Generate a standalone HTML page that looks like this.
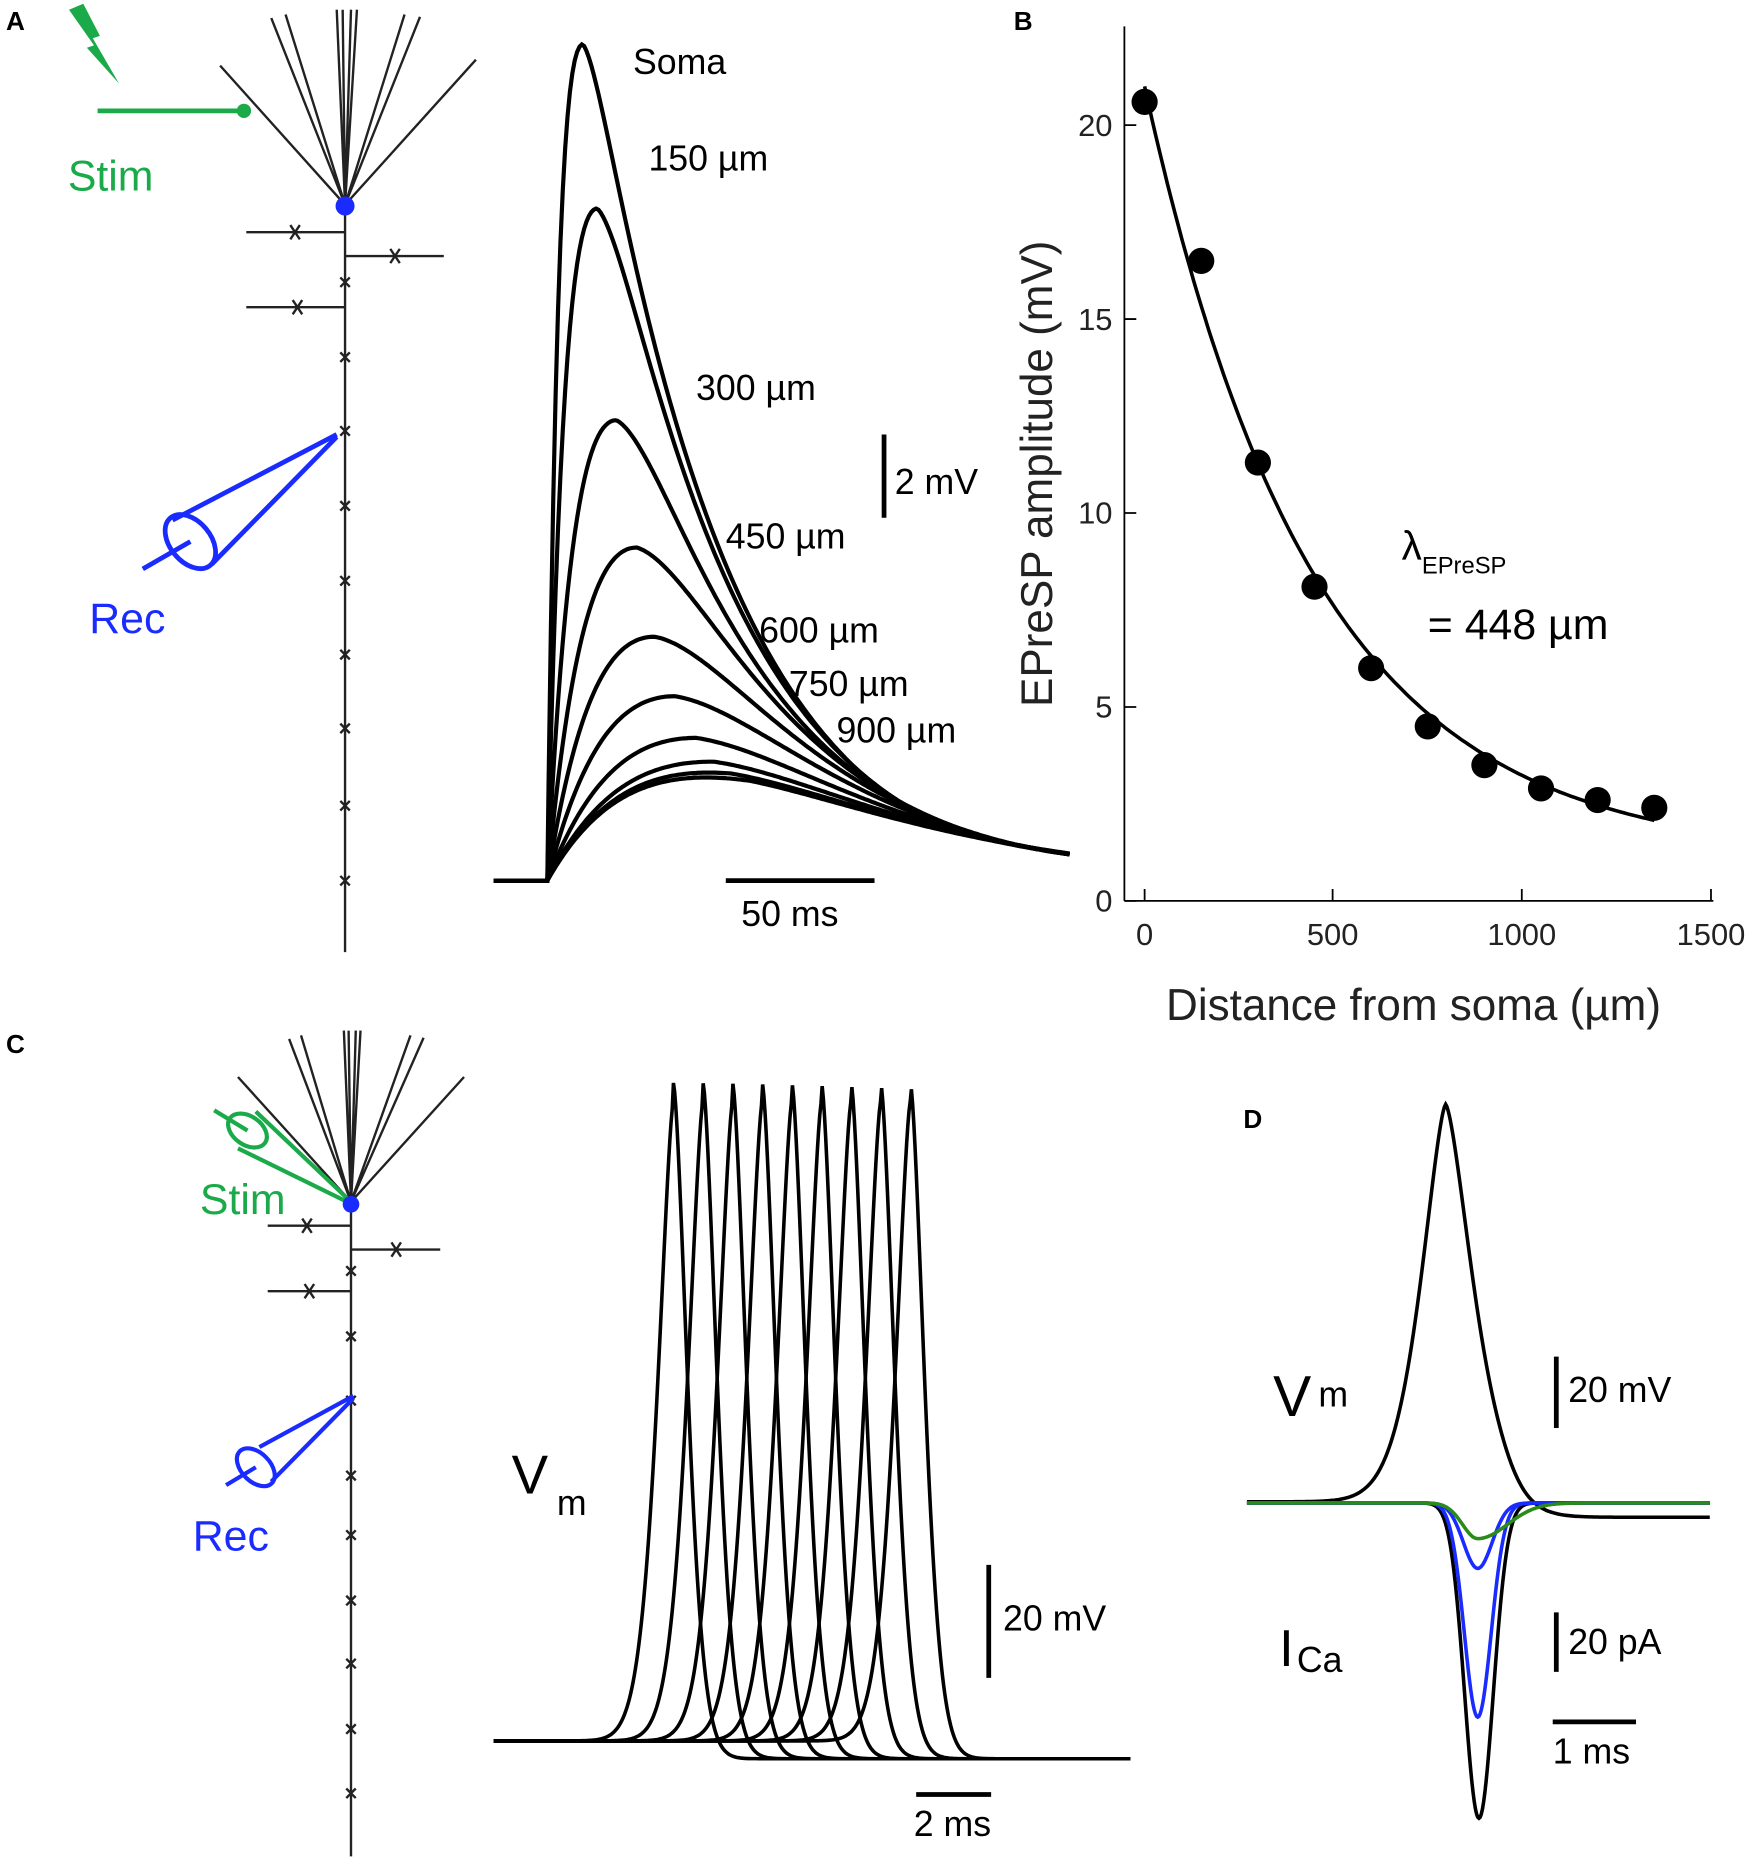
<!DOCTYPE html>
<html><head><meta charset="utf-8"><style>
html,body{margin:0;padding:0;background:#fff}
svg{display:block}
text{font-family:"Liberation Sans",Arial,sans-serif}
</style></head><body>
<svg id="s" width="1755" height="1872" viewBox="0 0 1475 1573" xmlns="http://www.w3.org/2000/svg">
<g font-weight="bold" font-size="22"><text x="5" y="25">A</text><text x="852" y="25">B</text><text x="5" y="885">C</text><text x="1045" y="948">D</text></g>
<g stroke="#222" stroke-width="2" fill="none">
<line x1="290" y1="172" x2="290" y2="800"/>
<path d="M290 172L185 55M290 172L228 15M290 172L240 12M290 172L283 8M290 172L288 8M290 172L295 8M290 172L300 8M290 172L340 12M290 172L353 14M290 172L400 50"/>
<path d="M207 195H290M290 215H373M207 258H290"/>
</g>
<g id="xa" stroke="#222" stroke-width="2"></g>
<polygon points="58,8 70,3 84,30 78,32 100,70 73,40 79,38" fill="#1aaa4a"/>
<line x1="82" y1="93" x2="205" y2="93" stroke="#1aaa4a" stroke-width="4"/><circle cx="205" cy="93" r="6" fill="#1aaa4a"/>
<text x="57" y="160" font-size="36" fill="#1aaa4a">Stim</text>
<circle cx="290" cy="173" r="8" fill="#1a2bff"/>
<g stroke="#1a2bff" stroke-width="4" fill="none">
<line x1="283" y1="365" x2="145" y2="437"/><line x1="283" y1="367" x2="178" y2="474"/>
<ellipse cx="160" cy="455" rx="17" ry="26" transform="rotate(-40 160 455)"/>
<line x1="120" y1="478" x2="160" y2="455"/></g>
<text x="75" y="532" font-size="36" fill="#1a2bff">Rec</text>
<g id="ta" stroke="#000" stroke-width="3.5" fill="none"></g>
<g font-size="30"><text x="532" y="62">Soma</text><text x="545" y="143">150 µm</text><text x="585" y="336">300 µm</text><text x="610" y="461">450 µm</text><text x="638" y="540">600 µm</text><text x="663" y="585">750 µm</text><text x="703" y="624">900 µm</text>
<text x="752" y="415">2 mV</text><text x="623" y="778">50 ms</text></g>
<line x1="743" y1="365" x2="743" y2="435" stroke="#000" stroke-width="4"/>
<line x1="610" y1="740" x2="735" y2="740" stroke="#000" stroke-width="4"/>
<g stroke="#000" stroke-width="1.5"><line x1="945" y1="22" x2="945" y2="757"/><line x1="945" y1="757" x2="1440" y2="757"/></g>
<g id="tb" stroke="#000" stroke-width="1.5"></g>
<g font-size="26" text-anchor="end" fill="#222"><text x="935" y="114">20</text><text x="935" y="277">15</text><text x="935" y="440">10</text><text x="935" y="603">5</text><text x="935" y="766">0</text></g>
<g font-size="26" text-anchor="middle" fill="#222"><text x="962" y="794">0</text><text x="1120" y="794">500</text><text x="1279" y="794">1000</text><text x="1438" y="794">1500</text></g>
<text transform="translate(884,398) rotate(-90)" text-anchor="middle" font-size="37" fill="#222">EPreSP amplitude (mV)</text>
<text x="1188" y="857" text-anchor="middle" font-size="37" fill="#222">Distance from soma (µm)</text>
<path id="fit" stroke="#000" stroke-width="3" fill="none"/>
<g id="dots"></g>
<text x="1178" y="470" font-size="34">λ<tspan font-size="20" dy="12">EPreSP</tspan></text>
<text x="1200" y="537" font-size="36">= 448 µm</text>
<g stroke="#222" stroke-width="2" fill="none">
<line x1="295" y1="1010" x2="295" y2="1560"/>
<path d="M295 1010L200 905M295 1010L243 873M295 1010L253 870M295 1010L289 866M295 1010L293 866M295 1010L299 866M295 1010L303 866M295 1010L345 870M295 1010L356 872M295 1010L390 905"/>
<path d="M225 1030H295M295 1050H370M225 1085H295"/></g>
<g id="xc" stroke="#222" stroke-width="2"></g>
<g stroke="#1aaa4a" stroke-width="3.5" fill="none">
<line x1="294" y1="1009" x2="215" y2="934"/><line x1="294" y1="1011" x2="200" y2="965"/>
<ellipse cx="208" cy="950" rx="12" ry="18" transform="rotate(-55 208 950)"/>
<line x1="180" y1="933" x2="208" y2="950"/></g>
<text x="168" y="1020" font-size="36" fill="#1aaa4a">Stim</text>
<circle cx="295" cy="1012" r="7" fill="#1a2bff"/>
<g stroke="#1a2bff" stroke-width="3.5" fill="none">
<line x1="297" y1="1173" x2="218" y2="1216"/><line x1="297" y1="1175" x2="228" y2="1245"/>
<ellipse cx="215" cy="1233" rx="12" ry="19" transform="rotate(-45 215 1233)"/>
<line x1="190" y1="1248" x2="215" y2="1233"/></g>
<text x="162" y="1303" font-size="36" fill="#1a2bff">Rec</text>
<g id="tc" stroke="#000" stroke-width="3" fill="none"></g>
<text x="430" y="1255" font-size="46">V</text><text x="468" y="1273" font-size="30">m</text>
<line x1="831" y1="1315" x2="831" y2="1410" stroke="#000" stroke-width="4"/>
<text x="843" y="1370" font-size="30">20 mV</text>
<line x1="770" y1="1508" x2="833" y2="1508" stroke="#000" stroke-width="4"/>
<text x="768" y="1543" font-size="30">2 ms</text>
<g id="td" fill="none"></g>
<text x="1070" y="1190" font-size="48">V</text><text x="1108" y="1182" font-size="30">m</text>
<text x="1075" y="1400" font-size="44">I</text><text x="1090" y="1405" font-size="30">Ca</text>
<line x1="1308" y1="1140" x2="1308" y2="1200" stroke="#000" stroke-width="4"/>
<text x="1318" y="1178" font-size="30">20 mV</text>
<line x1="1308" y1="1355" x2="1308" y2="1405" stroke="#000" stroke-width="4"/>
<text x="1318" y="1390" font-size="30">20 pA</text>
<line x1="1305" y1="1447" x2="1375" y2="1447" stroke="#000" stroke-width="4"/>
<text x="1305" y="1482" font-size="30">1 ms</text>
</svg>
<script>
var NS="http://www.w3.org/2000/svg";
function P(g,d,attrs){var p=document.createElementNS(NS,"path");p.setAttribute("d",d);if(attrs)for(var k in attrs)p.setAttribute(k,attrs[k]);document.getElementById(g).appendChild(p);}
function xm(g,x,ys){var d="";ys.forEach(function(y){d+="M"+(x-4)+" "+(y-4)+"L"+(x+4)+" "+(y+4)+"M"+(x+4)+" "+(y-4)+"L"+(x-4)+" "+(y+4);});P(g,d);}
xm("xa",290,[237,300,362,425,488,550,612,677,740]);
var d="";[[248,195],[332,215],[250,258]].forEach(function(p){d+="M"+(p[0]-4)+" "+(p[1]-6)+"L"+(p[0]+4)+" "+(p[1]+6)+"M"+(p[0]+4)+" "+(p[1]-6)+"L"+(p[0]-4)+" "+(p[1]+6);});P("xa",d);
xm("xc",295,[1068,1123,1177,1240,1290,1345,1398,1453,1507]);
d="";[[258,1030],[333,1050],[260,1085]].forEach(function(p){d+="M"+(p[0]-4)+" "+(p[1]-6)+"L"+(p[0]+4)+" "+(p[1]+6)+"M"+(p[0]+4)+" "+(p[1]-6)+"L"+(p[0]-4)+" "+(p[1]+6);});P("xc",d);
var peaks=[37,175,353,460,535,585,620,640,650,656],tp=[30,42,58,75,90,107,125,140,155,170];
for(var i=0;i<10;i++){
 var td=155-i*4,t=tp[i],lo=0.5,hi=150;
 for(var k=0;k<60;k++){var tr=(lo+hi)/2;var ts=Math.log(td/tr)*td*tr/(td-tr);if(ts<t)lo=tr;else hi=tr;}
 var tr=(lo+hi)/2,f=function(x){return Math.exp(-x/td)-Math.exp(-x/tr)};var A=(740-peaks[i])/f(t);
 var tail=A*f(440);var c=22/tail;
 var s="M415 740L460 740";
 for(var x=1;x<=440;x+=2){var v=A*f(x);var sc=1+(c-1)*Math.min(1,Math.max(0,(x-t)/(300)));s+="L"+(460+x)+" "+(740-v*sc).toFixed(1);}
 P("ta",s);
}
var tb="";[105,268,431,594,757].forEach(function(y){tb+="M945 "+y+"H955";});[962,1120,1279,1438].forEach(function(x){tb+="M"+x+" 757V747";});P("tb",tb);
function X(u){return 962+u*0.3173}function Y(v){return 757-v*32.6}
var s="";for(var u=0;u<=1350;u+=10){s+=(u?"L":"M")+X(u).toFixed(1)+" "+Y(19.9*Math.exp(-u/448)+1.1).toFixed(1);}document.getElementById("fit").setAttribute("d",s);
[[0,20.6],[150,16.5],[300,11.3],[450,8.1],[600,6.0],[750,4.5],[900,3.5],[1050,2.9],[1200,2.6],[1350,2.4]].forEach(function(p){var c=document.createElementNS(NS,"circle");c.setAttribute("cx",X(p[0]));c.setAttribute("cy",Y(p[1]));c.setAttribute("r",11);document.getElementById("dots").appendChild(c);});
for(var j=0;j<9;j++){var pk=566+j*24.9;var s="M415 1463";
 for(var x=416;x<=950;x+=1){var dx=x-pk,v;
  if(dx<0){v=538*Math.exp(-Math.pow(-dx/19,1.5));}else{v=553*Math.exp(-Math.pow(dx/17,1.6))-15*(1-Math.exp(-dx/10));}
  s+="L"+x+" "+(1463-v).toFixed(1);}
 P("tc",s);}
function g(x,c,w){return Math.exp(-Math.pow((x-c)/w,2));}
var s="";for(var x=1048;x<=1437;x++){var dx=x-1215;var v=dx<0?334*Math.exp(-Math.pow(-dx/30,1.5)):334*Math.exp(-Math.pow(dx/33,1.5));v-=13*(1/(1+Math.exp(-(x-1270)/8)));s+=(x==1048?"M":"L")+x+" "+(1262-v).toFixed(1);}
P("td",s,{stroke:"#000","stroke-width":3});
s="";for(var x=1048;x<=1437;x++){s+=(x==1048?"M":"L")+x+" "+(1263+265*g(x,1243,17)).toFixed(1);}P("td",s,{stroke:"#000","stroke-width":3});
s="";for(var x=1048;x<=1437;x++){s+=(x==1048?"M":"L")+x+" "+(1263+180*g(x,1242,16)).toFixed(1);}P("td",s,{stroke:"#1a2bff","stroke-width":3});
s="";for(var x=1048;x<=1437;x++){s+=(x==1048?"M":"L")+x+" "+(1263+55*g(x,1242,17)).toFixed(1);}P("td",s,{stroke:"#1a2bff","stroke-width":3});
s="";for(var x=1048;x<=1437;x++){s+=(x==1048?"M":"L")+x+" "+(1263+30*Math.exp(-Math.pow((x-1242)/(x<1242?18:35),2))).toFixed(1);}P("td",s,{stroke:"#2a8a1a","stroke-width":3});
</script>
</body></html>
